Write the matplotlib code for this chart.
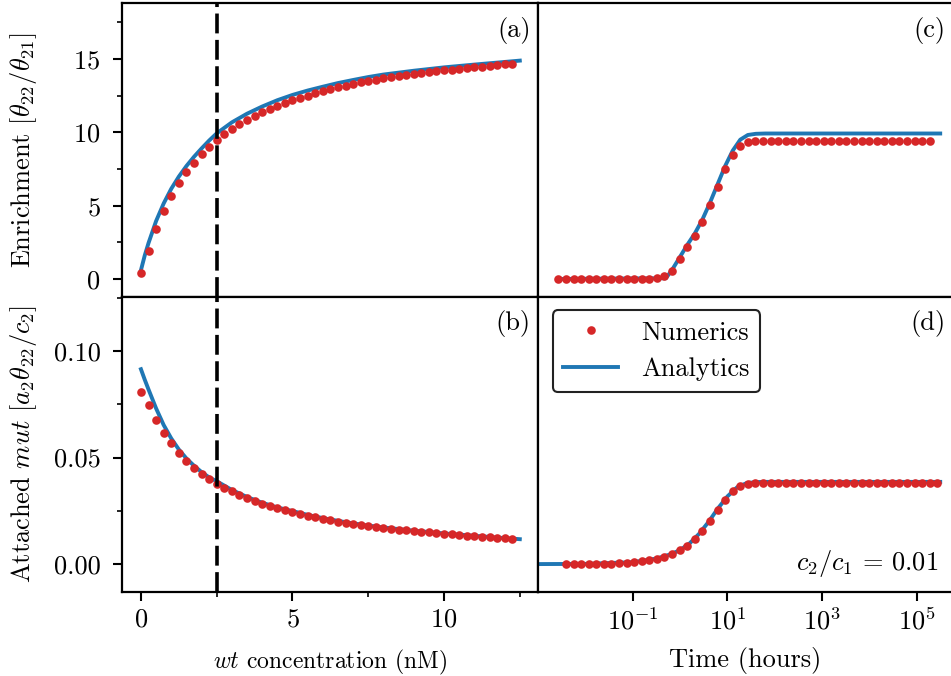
import numpy as np
import matplotlib
matplotlib.use("Agg")
import matplotlib.pyplot as plt
from matplotlib.ticker import MultipleLocator, FixedLocator, NullLocator, FormatStrFormatter

plt.rcParams['font.family'] = 'serif'
plt.rcParams['font.serif'] = ['cmr10']
plt.rcParams['mathtext.fontset'] = 'cm'
plt.rcParams['axes.formatter.use_mathtext'] = True
plt.rcParams['axes.unicode_minus'] = False

# ---------------- data ----------------
# (a), (b): numerics vs wt concentration (nM)
conc_num = np.arange(0, 12.5, 0.25)
enrich_num = [0.39, 1.93, 3.41, 4.66, 5.66, 6.54, 7.29, 7.93, 8.50, 9.00,
              9.45, 9.86, 10.20, 10.54, 10.84, 11.11, 11.36, 11.59, 11.81, 12.02,
              12.20, 12.36, 12.50, 12.66, 12.79, 12.93, 13.07, 13.18, 13.29, 13.41,
              13.50, 13.59, 13.68, 13.77, 13.84, 13.91, 13.97, 14.04, 14.11, 14.16,
              14.23, 14.27, 14.34, 14.38, 14.43, 14.47, 14.54, 14.59, 14.63, 14.68]
attached_num = [0.0809, 0.0748, 0.0676, 0.0617, 0.0567, 0.0523, 0.0485, 0.0452, 0.0424, 0.0399,
                0.0377, 0.0358, 0.0341, 0.0324, 0.0310, 0.0297, 0.0283, 0.0272, 0.0263, 0.0255,
                0.0246, 0.0236, 0.0228, 0.0220, 0.0212, 0.0205, 0.0199, 0.0194, 0.0188, 0.0183,
                0.0178, 0.0174, 0.0169, 0.0164, 0.0161, 0.0158, 0.0155, 0.0150, 0.0149, 0.0146,
                0.0142, 0.0139, 0.0136, 0.0133, 0.0131, 0.0128, 0.0127, 0.0124, 0.0121, 0.0119]

conc_an = [0, 0.125, 0.25, 0.5, 0.75, 1.0, 1.25, 1.5, 1.75, 2.0, 2.25, 2.5, 3.0, 3.5, 4.0,
           4.5, 5.0, 5.5, 6.0, 6.5, 7.0, 7.5, 8.0, 9.0, 10.0, 11.0, 12.0, 12.5]
enrich_an = [0.6, 1.6, 2.45, 3.95, 5.15, 6.15, 6.98, 7.7, 8.33, 8.9, 9.44, 9.93, 10.68, 11.27,
             11.76, 12.19, 12.55, 12.85, 13.11, 13.36, 13.57, 13.77, 13.94, 14.2, 14.43,
             14.62, 14.8, 14.89]
attached_an = [0.0915, 0.0866, 0.0820, 0.0731, 0.0653, 0.0590, 0.0538, 0.0496, 0.0462, 0.0432,
               0.0407, 0.0389, 0.0348, 0.0315, 0.0288, 0.0266, 0.0249, 0.0231, 0.0216, 0.0203,
               0.0191, 0.0181, 0.0172, 0.0157, 0.0144, 0.0133, 0.0122, 0.0117]

wt_marker = 2.5

# (c), (d): time course (hours)
t_grid = np.logspace(-2.57, 5.43, 51)
t_num_c = t_grid[:-1]
t_num_d = t_grid[1:]
enrich_t_num = [0.0] * 13 + [0.05, 0.18, 0.55, 1.39, 2.16, 2.93, 3.91, 5.04, 6.29, 7.48, 8.48,
                             9.09, 9.36, 9.43] + [9.44] * 23
attached_t_num = [0.0] * 6 + [0.0001, 0.0003, 0.0006, 0.0009, 0.0014, 0.0019, 0.0025, 0.0034,
                              0.0047, 0.0064, 0.0086, 0.0117, 0.0156, 0.0202, 0.0254, 0.0302,
                              0.0341, 0.0365, 0.0374] + [0.0379] * 25

logt_an_c = [-2.57, -0.3, -0.17, 0.0, 0.15, 0.31, 0.47, 0.63, 0.79, 0.95, 1.11, 1.27, 1.43,
             1.6, 1.8, 5.49]
enrich_t_an = [0.0, 0.05, 0.62, 1.52, 2.32, 3.1, 4.05, 5.2, 6.45, 7.7, 8.75, 9.5, 9.82,
               9.9, 9.92, 9.92]
logt_an_d = [-3.1, -2.0, -1.0, -0.5, -0.2, 0.0, 0.2, 0.4, 0.6, 0.8, 1.0, 1.2, 1.4, 1.6, 1.8, 5.49]
attached_t_an = [0.0, 0.0001, 0.0009, 0.0026, 0.0046, 0.0066, 0.0097, 0.0142, 0.0198, 0.0262,
                 0.0318, 0.0360, 0.0380, 0.0385, 0.0386, 0.0386]

time_ticks = [1e-1, 1e1, 1e3, 1e5]

# ---------------- figure ----------------
W, H = 951, 676
fig = plt.figure(figsize=(W / 100, H / 100), dpi=100)

xl, xm, xr = 122 / W, 538 / W, 953 / W
yt, ym, yb = 1 - 3 / H, 1 - 297 / H, 1 - 592 / H
ax_a = fig.add_axes([xl, ym, xm - xl, yt - ym])
ax_b = fig.add_axes([xl, yb, xm - xl, ym - yb])
ax_c = fig.add_axes([xm, ym, xr - xm, yt - ym])
ax_d = fig.add_axes([xm, yb, xr - xm, ym - yb])

red = '#d62728'
blue = '#1f77b4'
fs = 19
ms = 6.2
lw = 2.8
dash = (0, (5.5, 1.8))

# (a)
ax_a.plot(conc_an, enrich_an, color=blue, lw=lw, zorder=2)
ax_a.plot(conc_num, enrich_num, 'o', color=red, ms=ms, mec='none', zorder=3)
ax_a.axvline(wt_marker, color='k', lw=2.6, ls=dash, zorder=4)
# (b)
ax_b.plot(conc_an, attached_an, color=blue, lw=lw, zorder=2)
ax_b.plot(conc_num, attached_num, 'o', color=red, ms=ms, mec='none', zorder=3)
ax_b.axvline(wt_marker, color='k', lw=2.6, ls=dash, zorder=4)
# (c)
ax_c.plot(10 ** np.array(logt_an_c), enrich_t_an, color=blue, lw=lw, zorder=2)
ax_c.plot(t_num_c, enrich_t_num, 'o', color=red, ms=ms, mec='none', zorder=3)
# (d)
ax_d.plot(t_num_d, attached_t_num, 'o', color=red, ms=ms, mec='none', zorder=3,
          label='Numerics')
ax_d.plot(10 ** np.array(logt_an_d), attached_t_an, color=blue, lw=lw, zorder=2,
          label='Analytics')

for ax in (ax_a, ax_b):
    ax.set_xlim(-0.625, 13.1)
for ax in (ax_c, ax_d):
    ax.set_xscale('log')
    ax.set_xlim(1e-3, 10 ** 5.76)
for ax in (ax_a, ax_c):
    ax.set_ylim(-1.23, 18.82)
for ax in (ax_b, ax_d):
    ax.set_ylim(-0.0131, 0.1254)

for ax in (ax_a, ax_b, ax_c, ax_d):
    for s in ax.spines.values():
        s.set_linewidth(1.6)
    ax.tick_params(which='major', direction='out', length=6.5, width=1.5,
                   labelsize=fs, pad=5)
    ax.tick_params(which='minor', direction='out', length=3.5, width=1.2)
    ax.tick_params(axis='y', which='major', pad=9)

ax_a.yaxis.set_major_locator(MultipleLocator(5))
ax_a.yaxis.set_minor_locator(MultipleLocator(2.5))
ax_b.yaxis.set_major_locator(MultipleLocator(0.05))
ax_b.yaxis.set_minor_locator(MultipleLocator(0.025))
ax_b.yaxis.set_major_formatter(FormatStrFormatter('%.2f'))
ax_b.xaxis.set_major_locator(MultipleLocator(5))
ax_b.xaxis.set_minor_locator(MultipleLocator(2.5))
ax_a.xaxis.set_major_locator(MultipleLocator(5))
ax_a.tick_params(axis='x', which='both', bottom=False, labelbottom=False)

for ax in (ax_c, ax_d):
    ax.xaxis.set_major_locator(FixedLocator(time_ticks))
    ax.xaxis.set_minor_locator(NullLocator())
    ax.tick_params(axis='y', which='both', left=False, labelleft=False)
    ax.yaxis.set_minor_locator(NullLocator())
ax_c.tick_params(axis='x', which='both', bottom=False, labelbottom=False)

ax_a.set_ylabel(r'Enrichment [$\theta_{22}/\theta_{21}$]', fontsize=fs)
ax_b.set_ylabel(r'Attached $mut$ [$a_2\theta_{22}/c_2$]', fontsize=fs)
ax_a.yaxis.set_label_coords(-0.2, 0.5)
ax_b.yaxis.set_label_coords(-0.2, 0.5)
ax_b.set_xlabel(r'$wt$ concentration (nM)', fontsize=17)
ax_d.set_xlabel('Time (hours)', fontsize=fs)
ax_b.xaxis.set_label_coords(0.5, -0.19)
ax_d.xaxis.set_label_coords(0.5, -0.185)

for ax, lab, yy in ((ax_a, '(a)', 0.905), (ax_b, '(b)', 0.91),
                    (ax_c, '(c)', 0.905), (ax_d, '(d)', 0.91)):
    ax.text(0.982, yy, lab, transform=ax.transAxes, ha='right', va='center', fontsize=fs)

ax_d.text(0.964, 0.098, r'$c_2/c_1\,=\,0.01$', transform=ax_d.transAxes,
          ha='right', va='center', fontsize=fs)

leg = ax_d.legend(loc='upper left', bbox_to_anchor=(0.035, 0.955), borderaxespad=0,
                  fontsize=fs, frameon=True, fancybox=True, framealpha=1,
                  handlelength=2.1, handletextpad=0.87, labelspacing=0.5,
                  borderpad=0.4)
leg.get_frame().set_edgecolor('#222222')
leg.get_frame().set_linewidth(1.5)

fig.savefig('out.png', dpi=100)
